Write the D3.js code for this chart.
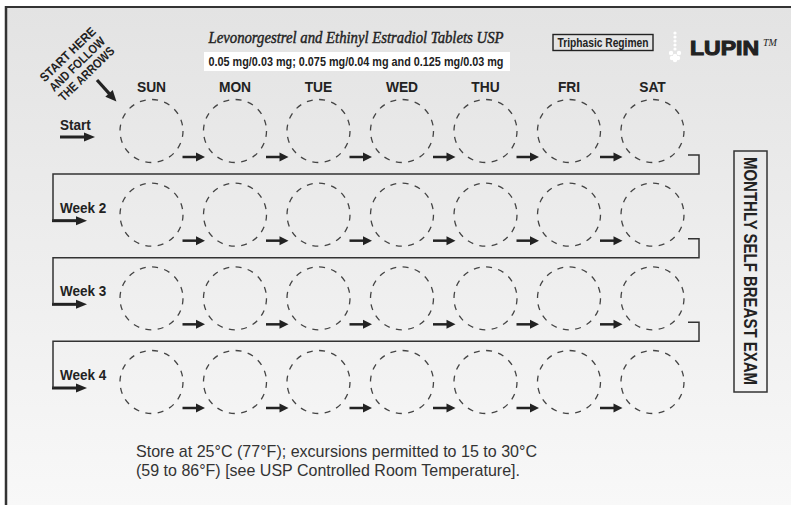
<!DOCTYPE html>
<html>
<head>
<meta charset="utf-8">
<script src="https://cdn.jsdelivr.net/npm/d3@7"></script>
<style>
  body { margin: 0; background: #fff; }
  svg { display: block; }
</style>
</head>
<body>
<svg width="791" height="505"></svg>
<script>
// card content
const days = ['SUN', 'MON', 'TUE', 'WED', 'THU', 'FRI', 'SAT'];
const weeks = ['Start', 'Week 2', 'Week 3', 'Week 4'];
const titleText = 'Levonorgestrel and Ethinyl Estradiol Tablets USP';
const doseText = '0.05 mg/0.03 mg; 0.075 mg/0.04 mg and 0.125 mg/0.03 mg';
const regimenText = 'Triphasic Regimen';
const startHint = ['START HERE', 'AND FOLLOW', 'THE ARROWS'];
const sideText = 'MONTHLY SELF BREAST EXAM';
const storageLines = [
  'Store at 25°C (77°F); excursions permitted to 15 to 30°C',
  '(59 to 86°F) [see USP Controlled Room Temperature].'
];

const svg = d3.select('svg');
const ink = '#222';
const sans = '"Liberation Sans", Arial, sans-serif';

// no narrow font on the box, so squeeze a normal one
const fit = (sel, w) => sel.attr('textLength', w).attr('lengthAdjust', 'spacingAndGlyphs');
const squeeze = (sel, k) => sel.each(function() {
  const L = this.getComputedTextLength();
  d3.select(this).attr('textLength', L * k).attr('lengthAdjust', 'spacingAndGlyphs');
});

// background
const defs = svg.append('defs');
const grad = defs.append('linearGradient').attr('id', 'bg')
  .attr('x1', 0).attr('y1', 0).attr('x2', 0).attr('y2', 1);
grad.append('stop').attr('offset', '0%').attr('stop-color', '#e3e3e3');
grad.append('stop').attr('offset', '100%').attr('stop-color', '#f8f8f8');

svg.append('rect').attr('x', 6).attr('y', 7).attr('width', 785).attr('height', 498)
  .attr('fill', 'url(#bg)');
svg.append('line').attr('x1', 5).attr('x2', 791).attr('y1', 7).attr('y2', 7)
  .attr('stroke', '#333').attr('stroke-width', 2);
svg.append('line').attr('x1', 6).attr('x2', 6).attr('y1', 6).attr('y2', 505)
  .attr('stroke', '#333').attr('stroke-width', 2.5);

// scales
const x = d3.scalePoint().domain(days).range([151.5, 652.5]);
const y = d3.scalePoint().domain(weeks).range([131, 382]);
const r = 31.5;

// arrow helper
const arrow = (g, x1, x2, yy, w, hl, hw) => {
  g.append('line').attr('x1', x1).attr('x2', x2 - hl + 1).attr('y1', yy).attr('y2', yy)
    .attr('stroke', ink).attr('stroke-width', w);
  g.append('path')
    .attr('d', `M${x2},${yy}L${x2 - hl},${yy - hw / 2}L${x2 - hl},${yy + hw / 2}Z`)
    .attr('fill', ink);
};

// header
svg.append('text').attr('x', 356).attr('y', 43).attr('text-anchor', 'middle')
  .attr('font-family', '"Liberation Serif", "DejaVu Serif", serif')
  .attr('font-style', 'italic').attr('font-size', 16)
  .attr('fill', ink).attr('stroke', ink).attr('stroke-width', 0.4)
  .text(titleText).call(fit, 295);

svg.append('rect').attr('x', 204).attr('y', 52).attr('width', 306).attr('height', 19)
  .attr('fill', '#fff');
svg.append('text').attr('x', 356).attr('y', 66).attr('text-anchor', 'middle')
  .attr('font-family', sans).attr('font-weight', 'bold').attr('font-size', 12)
  .attr('fill', ink).text(doseText).call(fit, 295);

svg.append('rect').attr('x', 553).attr('y', 34.5).attr('width', 100).attr('height', 16)
  .attr('fill', 'none').attr('stroke', ink).attr('stroke-width', 1.4);
svg.append('text').attr('x', 603).attr('y', 47).attr('text-anchor', 'middle')
  .attr('font-family', sans).attr('font-weight', 'bold').attr('font-size', 12.5)
  .attr('fill', ink).text(regimenText).call(fit, 91);

// logo
const logo = svg.append('g').attr('fill', '#fff');
d3.range(5).forEach(i => logo.append('circle').attr('cx', 675).attr('cy', 33 + i * 4).attr('r', 1.6));
[[671, 53], [679, 53], [675, 56], [672, 58], [678, 58], [675, 60]].forEach(([cx, cy]) =>
  logo.append('circle').attr('cx', cx).attr('cy', cy).attr('r', 2.2));
svg.append('text').attr('x', 690).attr('y', 55)
  .attr('font-family', sans).attr('font-weight', 'bold')
  .attr('font-size', 21).attr('fill', ink).attr('stroke', ink).attr('stroke-width', 1.1)
  .text('LUPIN').call(fit, 69);
svg.append('text').attr('x', 763).attr('y', 46)
  .attr('font-family', '"Liberation Serif", serif').attr('font-style', 'italic')
  .attr('font-size', 10).attr('fill', ink).text('TM');

// start hint
const hint = svg.append('g').attr('transform', 'translate(77,64) rotate(-44)');
hint.selectAll('text').data(startHint).join('text')
  .attr('x', 0).attr('y', (d, i) => (i - 1) * 13.5 + 4.5)
  .attr('text-anchor', 'middle')
  .attr('font-family', sans).attr('font-weight', 'bold').attr('font-size', 12.5)
  .attr('fill', ink).text(d => d).call(fit, 72);
const diag = svg.append('g').attr('transform', 'translate(97,80) rotate(48)');
arrow(diag, 0, 29, 0, 3.2, 11, 10);

// day labels
svg.selectAll('.day').data(days).join('text').attr('class', 'day')
  .attr('x', d => x(d)).attr('y', 92).attr('text-anchor', 'middle')
  .attr('font-family', sans).attr('font-weight', 'bold').attr('font-size', 15)
  .attr('fill', ink).text(d => d).call(squeeze, 0.92);

// week labels + left arrows
weeks.forEach((w, i) => {
  const cy = y(w);
  svg.append('text').attr('x', 60).attr('y', i === 0 ? cy - 1 : cy - 2)
    .attr('font-family', sans).attr('font-weight', 'bold').attr('font-size', 15)
    .attr('fill', ink).text(w).call(squeeze, 0.9);
  const g = svg.append('g');
  if (i === 0) arrow(g, 60, 95, cy + 6, 3, 11, 9);
  else arrow(g, 52, 87, cy + 6, 3, 11, 9);
});

// connectors between rows
weeks.slice(0, -1).forEach((w, i) => {
  const cy = y(w), ny = y(weeks[i + 1]);
  svg.append('path')
    .attr('d', `M688,${cy + 24}H699V${cy + 43}H53V${ny + 6}`)
    .attr('fill', 'none').attr('stroke', '#333').attr('stroke-width', 1.5);
});

// pill circles
const cells = weeks.flatMap(w => days.map(d => ({ w, d })));
svg.selectAll('.pill').data(cells).join('circle').attr('class', 'pill')
  .attr('cx', c => x(c.d)).attr('cy', c => y(c.w)).attr('r', r)
  .attr('fill', 'none').attr('stroke', '#444').attr('stroke-width', 1.3)
  .attr('stroke-dasharray', '6 6.4');

// arrows between pills
weeks.forEach(w => {
  const g = svg.append('g');
  days.slice(0, -1).forEach((d, j) => {
    const x1 = x(d) + 31, x2 = x(days[j + 1]) - 31 + 1;
    arrow(g, x1, x2, y(w) + 26, 2.5, 9, 9);
  });
});

// side box
svg.append('rect').attr('x', 734).attr('y', 151).attr('width', 33).attr('height', 241)
  .attr('fill', 'none').attr('stroke', '#333').attr('stroke-width', 1.5);
svg.append('text').attr('transform', 'translate(743.5,271) rotate(90)')
  .attr('text-anchor', 'middle')
  .attr('font-family', sans).attr('font-weight', 'bold').attr('font-size', 18)
  .attr('fill', ink).text(sideText).call(fit, 228);

// storage text
const storeW = [401, 384];
svg.selectAll('.store').data(storageLines).join('text').attr('class', 'store')
  .attr('x', 136).attr('y', (d, i) => 457 + i * 19)
  .attr('font-family', sans).attr('font-size', 17).attr('fill', '#333')
  .text(d => d)
  .each(function(d, i) { d3.select(this).call(fit, storeW[i]); });
</script>
</body>
</html>
